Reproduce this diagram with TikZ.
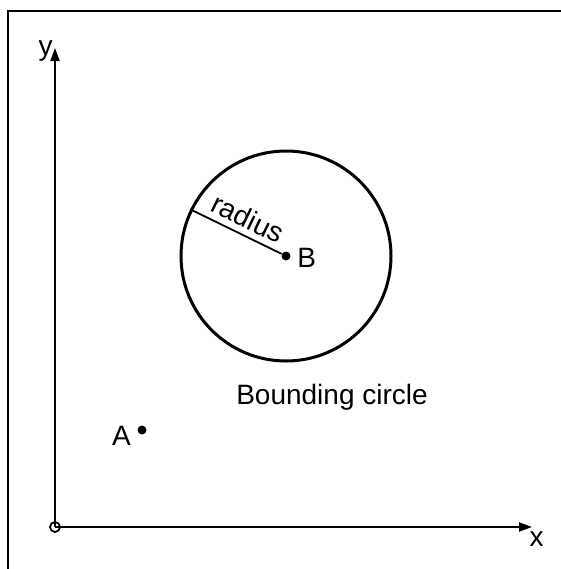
\documentclass[tikz,border=0pt]{standalone}
\usepackage{fontspec}
\setmainfont{Liberation Sans}
\usepackage{tikz}
\usetikzlibrary{positioning,arrows.meta}

\begin{document}
\begin{tikzpicture}[x=0.5pt, y=-0.5pt,
  lbl/.style={font=\fontsize{14}{16}\selectfont, inner sep=1pt},
  axis/.style={-{Triangle[length=6.5pt,width=4.5pt]}, line width=1pt},
  dot/.style={circle, fill=black, inner sep=0pt, minimum size=4.5pt},
  bound/.style={draw, circle, line width=1.5pt, minimum size=105pt, inner sep=0pt},
  frame/.style={line width=1.4pt}]
\fill[white] (0,0) rectangle (561,569);
\useasboundingbox (0,0) rectangle (561,569);
\draw[frame] (8,569) |- (561,11);
% axes
\coordinate (o) at (55,527);
\coordinate (xend) at (532,527);
\coordinate (yend) at (55,48);
\draw[axis] (o) -- (xend);
\draw[axis] (o) -- (yend);
\draw[line width=0.9pt] (o) circle (5);
\node[lbl, below left=1pt and -7pt of xend] (xl) {x};
\node[lbl, above left=-8pt and 0pt of yend] (yl) {y};
% bounding circle
\node[dot] (B) at (286,256) {};
\node[bound] (circ) at (286,256) {};
\node[lbl, right=2pt of B, yshift=-1pt] (Bl) {B};
\draw[line width=0.9pt] (circ.154) -- (B) node[pos=0.55, sloped, above=2.5pt, lbl, inner sep=0.5pt] (rl) {radius};
\node[lbl] (cl) at (332,397) {Bounding circle};
% point A
\node[dot] (A) at (142,430) {};
\node[lbl, left=2pt of A, yshift=-3pt] (Al) {A};
\end{tikzpicture}
\end{document}
